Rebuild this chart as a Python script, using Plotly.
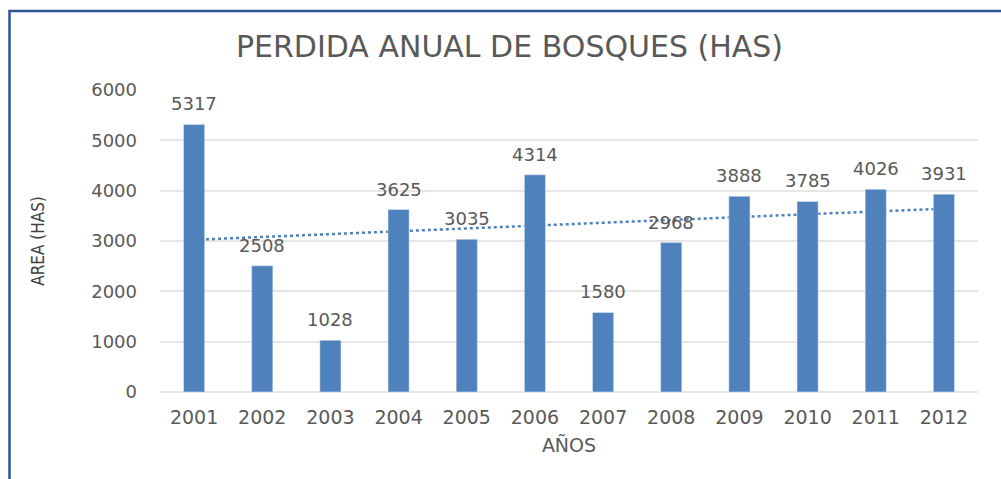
import numpy as np
import plotly.graph_objects as go

years = [2001, 2002, 2003, 2004, 2005, 2006, 2007, 2008, 2009, 2010, 2011, 2012]
area = [5317, 2508, 1028, 3625, 3035, 4314, 1580, 2968, 3888, 3785, 4026, 3931]
y_ticks = [0, 1000, 2000, 3000, 4000, 5000, 6000]

title_text = "PERDIDA ANUAL DE BOSQUES (HAS)"
x_title = "AÑOS"
y_title = "AREA (HAS)"

bar_color = "#4f81bd"
text_color = "#595959"
font_family = "DejaVu Sans"

# linear trendline fitted to the data
coef = np.polyfit(years, area, 1)
trend = np.polyval(coef, years)

fig = go.Figure()
fig.add_trace(go.Scatter(
    x=years, y=trend, mode="lines",
    line=dict(color=bar_color, width=2.5, dash="dot"),
    xaxis="x", yaxis="y", showlegend=False, hoverinfo="skip",
))
fig.add_trace(go.Bar(
    x=years, y=area, marker_color=bar_color, width=0.31,
    xaxis="x2", yaxis="y", showlegend=False,
))

for yr, v in zip(years, area):
    fig.add_annotation(x=yr, y=v, xref="x", yref="y", text=str(v), showarrow=False,
                       yanchor="bottom", yshift=8,
                       font=dict(family=font_family, size=18, color=text_color))

fig.update_layout(
    width=1001, height=479,
    margin=dict(l=160, r=23, t=90, b=87),
    paper_bgcolor="white", plot_bgcolor="white",
    title=dict(text=title_text, x=0.509, xref="container", xanchor="center", y=0.902, yanchor="middle", yref="container",
               font=dict(family=font_family, size=30, color=text_color)),
    xaxis=dict(range=[2000.5, 2012.5], tickvals=years, ticktext=[str(y) for y in years],
               showgrid=False, zeroline=False, showline=False, ticks="",
               tickfont=dict(family=font_family, size=19, color=text_color), ticklabelstandoff=12,
               title=dict(text=x_title, font=dict(family=font_family, size=19, color=text_color), standoff=11)),
    xaxis2=dict(range=[2000.5, 2012.5], overlaying="x", visible=False),
    yaxis=dict(range=[0, 6000], tickvals=y_ticks, showgrid=True, gridcolor="#e6e6e6", gridwidth=1.5,
               zeroline=True, zerolinecolor="#e6e6e6", zerolinewidth=1.5, showline=False, ticks="",
               tickfont=dict(family=font_family, size=18, color=text_color), ticklabelstandoff=22,
               title=dict(text=y_title, font=dict(family="DejaVu Sans Condensed, Liberation Sans Narrow, DejaVu Sans", size=17, color="#404040"),
                          standoff=42)),
    shapes=[dict(type="rect", xref="paper", yref="paper", x0=-0.184, x1=1.2, y0=-0.6, y1=1.2616,
                 line=dict(color="#2f5597", width=2.5), fillcolor="rgba(0,0,0,0)", layer="below")],
)

fig.write_html("out.html", config={"displayModeBar": False},
               post_script="document.body.style.margin='0';")
